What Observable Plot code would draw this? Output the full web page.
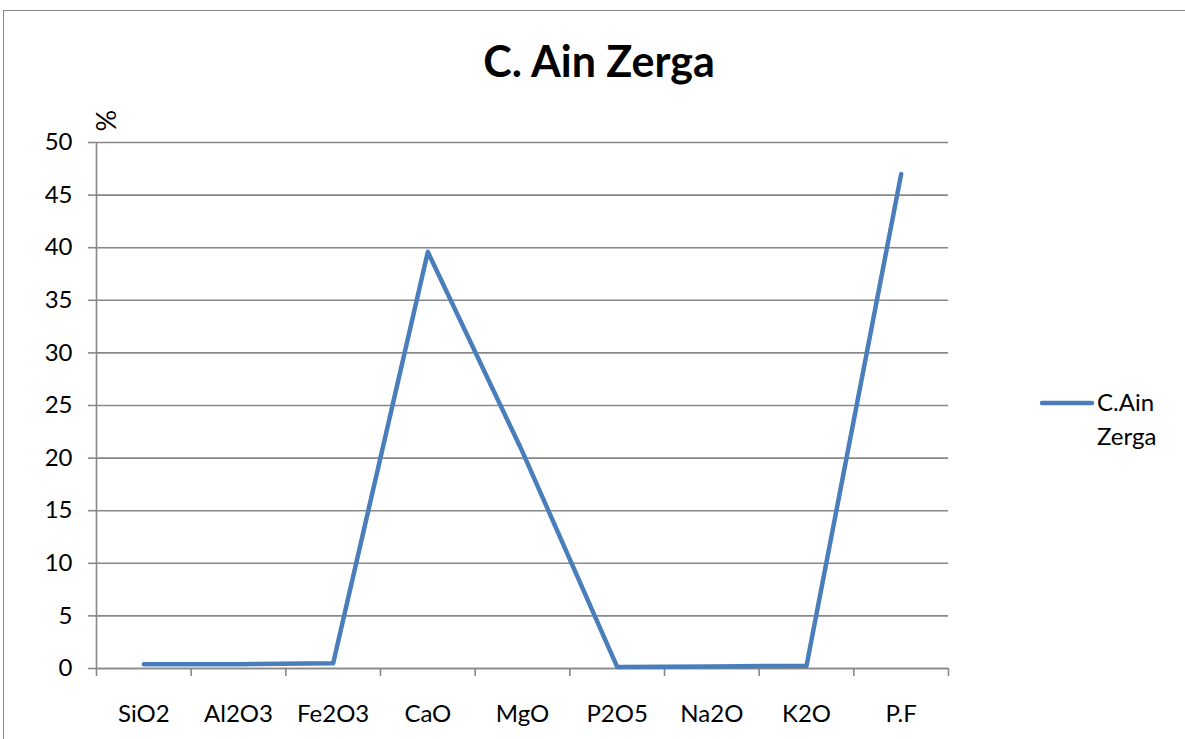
<!DOCTYPE html>
<html>
<head>
<meta charset="utf-8">
<script src="https://cdn.jsdelivr.net/npm/d3@7"></script>
<script src="https://cdn.jsdelivr.net/npm/@observablehq/plot@0.6"></script>
<style>
  html, body { margin: 0; padding: 0; background: #fff; overflow: hidden; }
  body { width: 1185px; height: 739px; position: relative; font-family: Lato, "Open Sans", sans-serif; }
  #frame { position: absolute; left: 3px; top: 10px; width: 1200px; height: 760px; border: 1.5px solid #878787; box-sizing: border-box; }
  #chart { position: absolute; left: 0; top: 0; }
  #title { position: absolute; left: 0; top: 39px; width: 1198px; text-align: center; font-size: 43px; line-height: 43px; font-weight: bold; color: #000; }
  #legend { position: absolute; left: 1040px; top: 385px; }
  #legend svg { position: absolute; left: 0; top: 14px; }
  #legend .lab { position: absolute; left: 57px; top: 0; font-size: 24px; line-height: 34px; color: #000; white-space: nowrap; }
</style>
</head>
<body>
<div id="frame"></div>
<div id="chart"></div>
<div id="title">C. Ain Zerga</div>
<div id="legend">
  <svg width="56" height="8"><line x1="2" y1="4" x2="52" y2="4" stroke="#4A7EBB" stroke-width="4.5" stroke-linecap="round"/></svg>
  <div class="lab">C.Ain<br>Zerga</div>
</div>
<script>
const categories = ["SiO2", "Al2O3", "Fe2O3", "CaO", "MgO", "P2O5", "Na2O", "K2O", "P.F"];
const values = [0.4, 0.4, 0.5, 39.6, 20.6, 0.15, 0.2, 0.25, 47.0];
const yTicks = [0, 5, 10, 15, 20, 25, 30, 35, 40, 45, 50];
const seriesName = "C.Ain Zerga";

const data = categories.map((c, i) => ({category: c, idx: i, value: values[i], series: seriesName}));
const boundaries = d3.range(categories.length + 1).map(i => i - 0.5);
const gray = "#888888";

const chart = Plot.plot({
  width: 1185,
  height: 739,
  marginLeft: 96,
  marginRight: 237,
  marginTop: 142,
  marginBottom: 71,
  style: {fontFamily: "Lato, 'Open Sans', sans-serif", fontSize: "24px", color: "#000", background: "transparent"},
  x: {type: "linear", domain: [-0.5, categories.length - 0.5]},
  y: {domain: [0, 50]},
  marks: [
    Plot.gridY(yTicks, {stroke: gray, strokeOpacity: 1, strokeWidth: 1.6}),
    Plot.ruleX([-0.5], {stroke: gray, strokeWidth: 1.6}),
    Plot.ruleY([0], {stroke: gray, strokeWidth: 1.6}),
    Plot.axisY(yTicks, {tickSize: 8, tickPadding: 16, stroke: gray, strokeWidth: 1.6, label: null, fontSize: 24, fill: "#000"}),
    Plot.axisX(boundaries, {tickSize: 8, tickFormat: () => "", stroke: gray, strokeWidth: 1.6, label: null}),
    Plot.axisX(d3.range(categories.length), {tickSize: 0, tickPadding: 36, tickFormat: i => categories[i], label: null, fontSize: 24, fill: "#000"}),
    Plot.text(["%"], {frameAnchor: "top-left", dx: 0, dy: -11, rotate: -90, fontSize: 27, fill: "#000"}),
    Plot.line(data, {x: "idx", y: "value", stroke: "#4A7EBB", strokeWidth: 4.5, strokeLinejoin: "round", strokeLinecap: "round"})
  ]
});
document.getElementById("chart").appendChild(chart);
</script>
</body>
</html>
